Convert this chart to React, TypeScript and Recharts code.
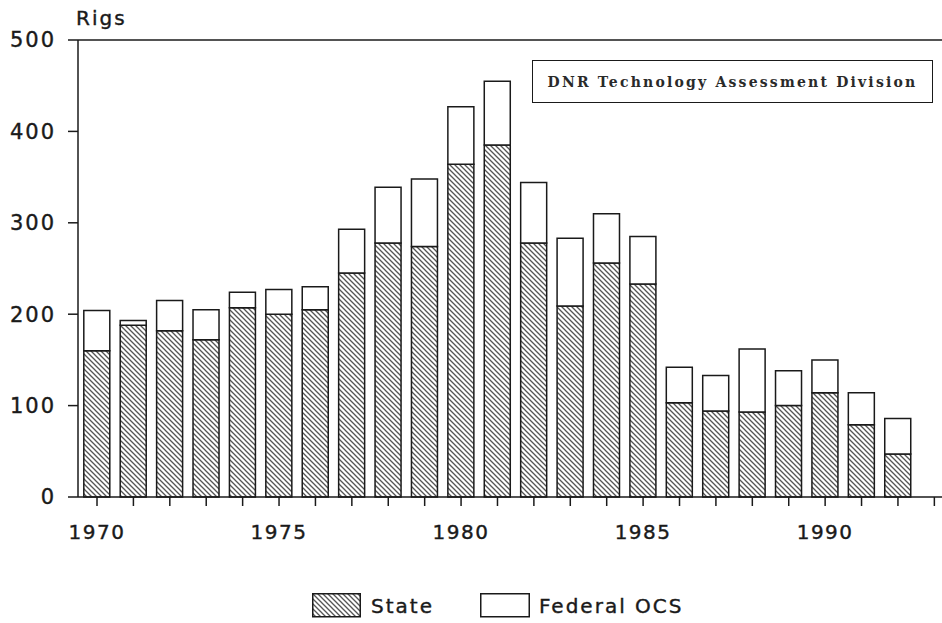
import { BarChart, Bar, XAxis, YAxis, ReferenceLine, Legend } from 'recharts';

const years = [1970, 1971, 1972, 1973, 1974, 1975, 1976, 1977, 1978, 1979, 1980, 1981, 1982, 1983, 1984, 1985, 1986, 1987, 1988, 1989, 1990, 1991, 1992];
const stateRigs = [160, 188, 182, 172, 207, 200, 205, 245, 278, 274, 364, 385, 278, 209, 256, 233, 103, 94, 93, 100, 114, 79, 47];
const federalRigs = [44, 5, 33, 33, 17, 27, 25, 48, 61, 74, 63, 70, 66, 74, 54, 52, 39, 39, 69, 38, 36, 35, 39];

const yTicks = [0, 100, 200, 300, 400, 500];
const xTicks = [1970, 1971, 1972, 1973, 1974, 1975, 1976, 1977, 1978, 1979, 1980, 1981, 1982, 1983, 1984, 1985, 1986, 1987, 1988, 1989, 1990, 1991, 1992, 1993];

const INK = '#1a1a1a';
const FONT = '"DejaVu Sans", sans-serif';

const data = years.map((year, i) => ({
  year,
  state: stateRigs[i],
  federal: federalRigs[i],
}));

const textWeight = { WebkitTextStroke: `0.4px ${INK}` } as any;

const LegendContent = () => (
  <div style={{ display: 'flex', alignItems: 'center', fontFamily: FONT, fontSize: 20, letterSpacing: 2, color: INK, paddingLeft: 312, ...textWeight }}>
    <svg width={49} height={25} style={{ display: 'block' }}>
      <rect x={0.75} y={0.75} width={47.5} height={23} fill="url(#hatch)" stroke={INK} strokeWidth={1.5} />
    </svg>
    <span style={{ marginLeft: 10, marginRight: 46 }}>State</span>
    <svg width={50} height={25} style={{ display: 'block' }}>
      <rect x={0.75} y={0.75} width={48.5} height={23} fill="#fff" stroke={INK} strokeWidth={1.5} />
    </svg>
    <span style={{ marginLeft: 9 }}>Federal OCS</span>
  </div>
);

export default function App() {
  return (
    <div style={{ position: 'absolute', left: 0, top: 0, width: 942, height: 623, background: '#fff' }}>
      <div style={{ position: 'absolute', left: 76, top: 8, fontFamily: FONT, fontSize: 20, lineHeight: 1, letterSpacing: 2, color: INK, ...textWeight }}>
        Rigs
      </div>
      <div
        style={{
          position: 'absolute',
          left: 532,
          top: 60,
          width: 399,
          height: 41,
          border: `1.5px solid ${INK}`,
          display: 'flex',
          alignItems: 'center',
          justifyContent: 'center',
          fontFamily: '"DejaVu Serif", serif',
          fontWeight: 'bold',
          fontSize: 14,
          letterSpacing: 2.2,
          color: '#2a2a2a',
          zIndex: 2,
        }}
      >
        DNR Technology Assessment Division
      </div>
      <BarChart width={942} height={623} data={data} margin={{ top: 40, right: 0, left: 0, bottom: 96 }}>
        <defs>
          <pattern id="hatch" patternUnits="userSpaceOnUse" width={5} height={5}>
            <rect width={5} height={5} fill="#fff" />
            <path d="M0,0 L5,5 M-1,4 L1,6 M4,-1 L6,1" stroke="#555" strokeWidth={1.3} />
          </pattern>
        </defs>
        <XAxis
          dataKey="year"
          type="number"
          domain={[1969.478, 1993.21]}
          ticks={xTicks}
          interval={0}
          allowDataOverflow
          height={30}
          tickSize={9}
          tickMargin={19}
          stroke={INK}
          strokeWidth={1.5}
          tick={{ fill: INK, stroke: INK, strokeWidth: 0.4, fontFamily: FONT, fontSize: 20, letterSpacing: 1.5 }}
          tickFormatter={(v: number) => (v % 5 === 0 && v < 1993 ? String(v) : '')}
        />
        <YAxis
          type="number"
          domain={[0, 500]}
          ticks={yTicks}
          interval={0}
          width={78}
          tickSize={10}
          tickMargin={12}
          stroke={INK}
          strokeWidth={1.5}
          tick={{ fill: INK, stroke: INK, strokeWidth: 0.4, fontFamily: FONT, fontSize: 21, letterSpacing: 2 }}
        />
        <ReferenceLine y={500} stroke={INK} strokeWidth={1.5} />
        <Bar dataKey="state" name="State" stackId="a" barSize={26} fill="url(#hatch)" stroke={INK} strokeWidth={1.5} isAnimationActive={false} />
        <Bar dataKey="federal" name="Federal OCS" stackId="a" barSize={26} fill="#fff" stroke={INK} strokeWidth={1.5} isAnimationActive={false} />
        <Legend
          layout="horizontal"
          verticalAlign="middle"
          align="center"
          content={() => <LegendContent />}
          wrapperStyle={{ position: 'absolute', top: 593, left: 0, width: 942, height: 25 }}
        />
      </BarChart>
    </div>
  );
}
